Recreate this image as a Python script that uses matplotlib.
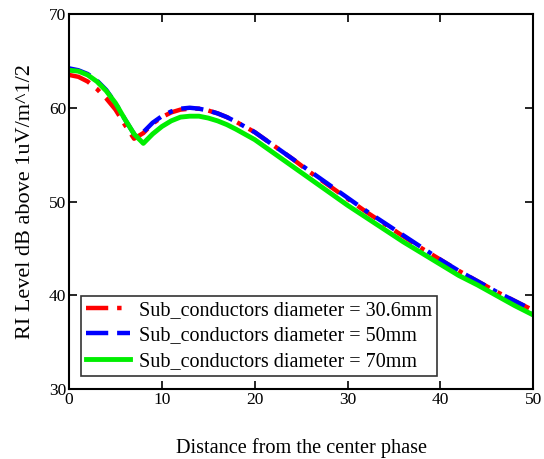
import matplotlib
matplotlib.use("Agg")
import matplotlib.pyplot as plt

plt.rcParams['font.family'] = ['Liberation Serif', 'DejaVu Serif']

# distance from centre phase (m)
dist = [0, 1, 2, 3, 4, 5, 6, 7, 8, 9, 10, 11, 12, 13, 14, 15, 16, 17, 18,
        20, 22, 24, 26, 28, 30, 32, 34, 36, 38, 40, 42, 44, 46, 48, 50]

ri_30 = [63.5, 63.3, 62.8, 62.0, 61.0, 59.8, 58.2, 56.7, 57.3, 58.3, 59.0, 59.5, 59.8, 59.9, 59.9, 59.7, 59.4, 59.0, 58.5,
         57.4, 56.0, 54.6, 53.1, 51.7, 50.3, 48.9, 47.6, 46.3, 45.0, 43.8, 42.6, 41.5, 40.4, 39.4, 38.4]
ri_50 = [64.2, 64.0, 63.6, 62.9, 61.9, 60.5, 58.8, 57.2, 57.4, 58.4, 59.1, 59.6, 59.9, 60.0, 59.9, 59.7, 59.4, 59.0, 58.5,
         57.4, 56.0, 54.6, 53.2, 51.8, 50.4, 49.0, 47.7, 46.4, 45.1, 43.8, 42.6, 41.5, 40.4, 39.4, 38.4]
ri_70 = [64.0, 63.9, 63.5, 62.8, 61.8, 60.5, 58.8, 57.2, 56.2, 57.2, 58.0, 58.6, 59.0, 59.1, 59.1, 58.9, 58.6, 58.2, 57.7,
         56.6, 55.2, 53.8, 52.4, 51.0, 49.6, 48.3, 47.0, 45.7, 44.5, 43.3, 42.1, 41.1, 40.0, 38.9, 37.9]

labels = ["Sub_conductors diameter = 30.6mm",
          "Sub_conductors diameter = 50mm",
          "Sub_conductors diameter = 70mm"]

fig = plt.figure(figsize=(5.44, 4.59), dpi=100)
ax = fig.add_axes([0.127, 0.1525, 0.853, 0.817])

ax.plot(dist, ri_30, color='#ff0000', lw=3.2, dashes=(5, 2, 1, 2), label=labels[0])
ax.plot(dist, ri_50, color='#0000ff', lw=3.2, dashes=(5, 2, 5, 2, 1, 2), label=labels[1])
ax.plot(dist, ri_70, color='#00ee00', lw=3.5, label=labels[2])

ax.set_xlim(0, 50)
ax.set_ylim(30, 70)
ax.set_xticks([0, 10, 20, 30, 40, 50])
ax.set_yticks([30, 40, 50, 60, 70])
ax.tick_params(direction='in', top=True, right=True, length=6, width=1.2, labelsize=12.5, pad=2)
for s in ax.spines.values():
    s.set_linewidth(1.5)

ax.set_xlabel("Distance from the center phase", fontsize=14.6, labelpad=22)
ax.set_ylabel("RI Level dB above 1uV/m^1/2", fontsize=16, labelpad=10)

leg = ax.legend(loc='lower left', bbox_to_anchor=(0.025, 0.035), fontsize=14.5,
                frameon=True, fancybox=False, edgecolor='black', borderpad=0.25,
                labelspacing=0.32, handlelength=2.2, handletextpad=0.45, borderaxespad=0)
leg.get_frame().set_linewidth(1.2)

fig.savefig("out.png", dpi=100)
